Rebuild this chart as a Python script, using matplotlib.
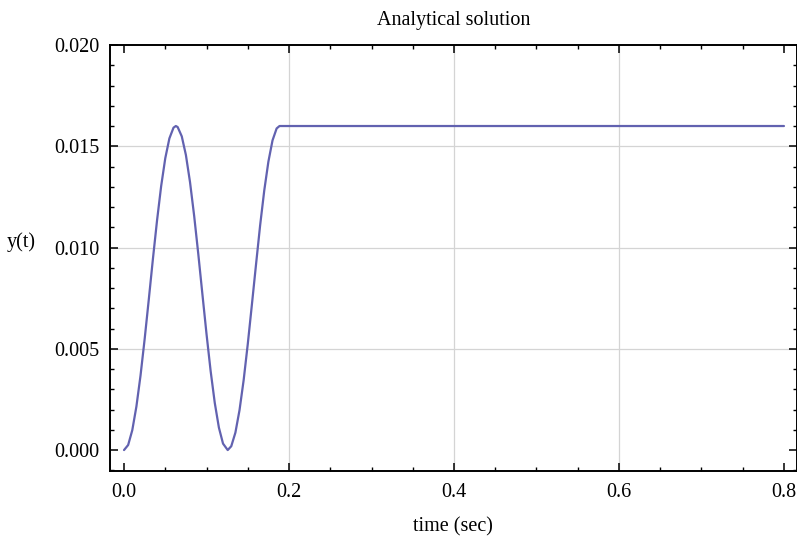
import numpy as np
import matplotlib.pyplot as plt
from matplotlib.ticker import MultipleLocator

# values
t = [0.000, 0.005, 0.010, 0.015, 0.020, 0.025, 0.030, 0.035, 0.040, 0.045,
     0.050, 0.055, 0.060, 0.0628, 0.065, 0.070, 0.075, 0.080, 0.085, 0.090,
     0.095, 0.100, 0.105, 0.110, 0.115, 0.120, 0.1257, 0.130, 0.135, 0.140,
     0.145, 0.150, 0.155, 0.160, 0.165, 0.170, 0.175, 0.180, 0.185, 0.1885,
     0.800]
y = [0.00000, 0.00025, 0.00098, 0.00215, 0.00368, 0.00548, 0.00743, 0.00943,
     0.01133, 0.01303, 0.01441, 0.01539, 0.01592, 0.01600, 0.01595, 0.01549,
     0.01457, 0.01323, 0.01157, 0.00969, 0.00770, 0.00573, 0.00390, 0.00233,
     0.00111, 0.00032, 0.00000, 0.00019, 0.00086, 0.00197, 0.00345, 0.00523,
     0.00718, 0.00916, 0.01110, 0.01282, 0.01424, 0.01529, 0.01588, 0.01600,
     0.01600]

x_ticks = [0.0, 0.2, 0.4, 0.6, 0.8]
y_ticks = [0.000, 0.005, 0.010, 0.015, 0.020]
x_grid = [0.2, 0.4, 0.6]
y_grid = [0.005, 0.010, 0.015]

plt.rcParams["font.family"] = ["Liberation Serif", "DejaVu Serif"]

fig = plt.figure(figsize=(7.97, 5.41), dpi=100)
ax = fig.add_axes([0.1374, 0.1299, 0.8626, 0.7869])

for gx in x_grid:
    ax.axvline(gx, color="#d4d4d4", lw=0.9, zorder=0)
for gy in y_grid:
    ax.axhline(gy, color="#d4d4d4", lw=0.9, zorder=0)

ax.plot(t, y, color="#6262b0", lw=1.6, solid_capstyle="round",
        solid_joinstyle="round")

ax.set_xlim(-0.0176, 0.8158)
ax.set_ylim(-0.00102, 0.020)
ax.set_xticks(x_ticks)
ax.set_yticks(y_ticks)
ax.set_xticklabels([f"{v:.1f}" for v in x_ticks])
ax.set_yticklabels([f"{v:.3f}" for v in y_ticks])
ax.xaxis.set_minor_locator(MultipleLocator(0.05))
ax.yaxis.set_minor_locator(MultipleLocator(0.001))

ax.tick_params(which="both", direction="in", top=True, right=True,
               labelsize=14.5, color="black")
ax.tick_params(which="major", length=5.5, width=1.1)
ax.tick_params(axis="x", which="major", pad=9)
ax.tick_params(axis="y", which="major", pad=7)
ax.tick_params(which="minor", length=2.8, width=1.0)
for s in ax.spines.values():
    s.set_linewidth(1.4)

ax.set_title("Analytical solution", fontsize=14.5, pad=14.5)
ax.set_xlabel("time (sec)", fontsize=14.5, labelpad=11)
ax.set_ylabel("y(t)", fontsize=14.5, rotation=0, va="center", ha="center")
ax.yaxis.set_label_coords(-0.128, 0.537)

fig.savefig("out.png", dpi=100)
